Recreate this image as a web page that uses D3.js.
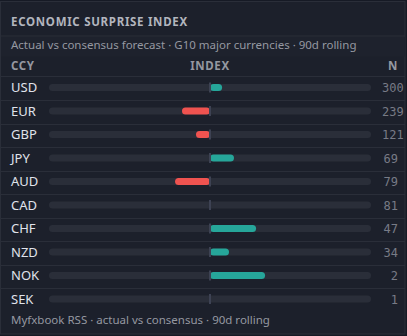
<!DOCTYPE html>
<html><head><meta charset="utf-8">
<script src="https://cdn.jsdelivr.net/npm/d3@7/dist/d3.min.js"></script>
<style>
html,body{margin:0;padding:0;background:#161a25;}
svg{display:block;}
</style></head>
<body><svg id="c" width="407" height="336"></svg>
<script>
const currencies = ["USD","EUR","GBP","JPY","AUD","CAD","CHF","NZD","NOK","SEK"];
const surprise = [0.075,-0.174,-0.087,0.149,-0.217,0,0.286,0.118,0.342,0];
const counts = [300,239,121,69,79,81,47,34,2,1];
const title = "ECONOMIC SURPRISE INDEX";
const subtitle = "Actual vs consensus forecast · G10 major currencies · 90d rolling";
const headers = ["CCY","INDEX","N"];
const footer = "Myfxbook RSS · actual vs consensus · 90d rolling";

const svg = d3.select("#c");
const W = 407, H = 336;
const sans = "'Noto Sans', 'Open Sans', sans-serif";
const mono = "'DejaVu Sans Mono', monospace";

// panel
svg.append("rect").attr("x",0.5).attr("y",1.5).attr("width",404.5).attr("height",332.5)
  .attr("fill","#1c202b").attr("stroke","#2a2e39");
svg.append("rect").attr("x",1).attr("y",36.5).attr("width",404).attr("height",20)
  .attr("fill","#1e222d");
svg.append("line").attr("x1",1).attr("x2",405).attr("y1",36).attr("y2",36).attr("stroke","#2a2e39");

svg.append("text").attr("x",11).attr("y",26).text(title)
  .attr("font-family",sans).attr("font-weight",700).attr("font-size",11.5)
  .attr("letter-spacing",0.7).attr("fill","#b2b5be");
svg.append("text").attr("x",11).attr("y",49).text(subtitle)
  .attr("font-family",sans).attr("font-size",11.5).attr("fill","#9598a1");

const x = d3.scaleLinear().domain([-1,1]).range([49,371]);
const y = d3.scaleBand().domain(currencies).range([76.5, 311.5]);
const cx = x(0);

// header
const hy = 70;
svg.append("text").attr("x",11).attr("y",hy).text(headers[0]);
svg.append("text").attr("x",cx).attr("y",hy).attr("text-anchor","middle").text(headers[1]);
svg.append("text").attr("x",398).attr("y",hy).attr("text-anchor","end").text(headers[2]);
svg.selectAll("text").filter(function(){return headers.includes(this.textContent);})
  .attr("font-family",sans).attr("font-weight",700).attr("font-size",11.5)
  .attr("letter-spacing",0.6).attr("fill","#9598a1");
svg.append("line").attr("x1",1).attr("x2",405).attr("y1",76.5).attr("y2",76.5).attr("stroke","#2a2e39");

const rows = svg.selectAll("g.row").data(currencies).join("g").attr("class","row");
rows.filter((d,i)=>i>0).append("line")
  .attr("x1",1).attr("x2",405)
  .attr("y1",d=>Math.round(y(d))+0.5).attr("y2",d=>Math.round(y(d))+0.5)
  .attr("stroke","#2a2e39");
const mid = d => y(d) + 11;
rows.append("text").attr("x",11).attr("y",d=>mid(d)+4.8).text(d=>d)
  .attr("font-family",sans).attr("font-size",13).attr("fill","#e0e3eb");
rows.append("rect").attr("x",x(-1)).attr("width",x(1)-x(-1))
  .attr("y",d=>mid(d)-3.5).attr("height",7).attr("rx",3.5)
  .attr("fill","#2a2e39");
rows.append("rect")
  .attr("x",(d,i)=> surprise[i]>=0 ? cx : x(surprise[i]))
  .attr("width",(d,i)=> Math.abs(x(surprise[i])-cx))
  .attr("y",d=>mid(d)-3.5).attr("height",7).attr("rx",3.5)
  .attr("fill",(d,i)=> surprise[i]>=0 ? "#26a69a" : "#ef5350");
rows.append("rect").attr("x",cx-1).attr("width",2)
  .attr("y",d=>mid(d)-5).attr("height",10).attr("fill","#3d4253");
rows.append("text").attr("y",d=>mid(d)+4.5).text((d,i)=>counts[i])
  .attr("font-family",mono).attr("font-size",12).attr("fill","#787b86")
  .attr("x",function(){const w=this.getComputedTextLength();return Math.max(382, 398-w);});

svg.append("text").attr("x",11).attr("y",324).text(footer)
  .attr("font-family",sans).attr("font-size",11.5).attr("fill","#9598a1");
</script></body></html>
